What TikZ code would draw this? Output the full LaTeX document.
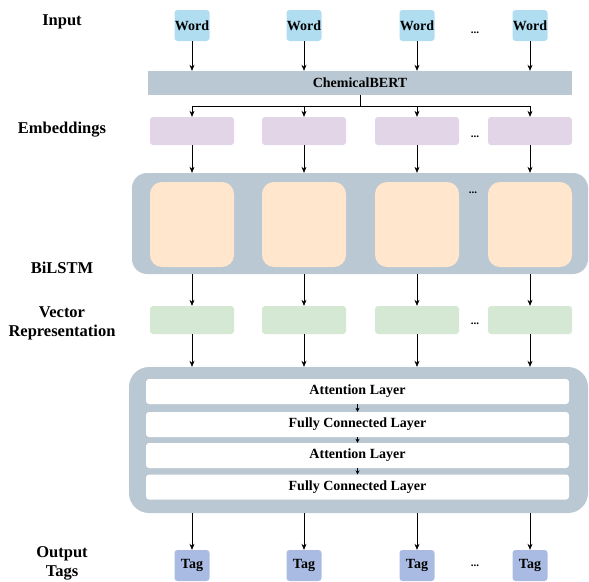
\documentclass[tikz,border=0pt]{standalone}
\usepackage{fontspec}
\setmainfont{Liberation Serif}
\usepackage{tikz}
\usetikzlibrary{positioning,arrows.meta,calc}
\definecolor{wordblue}{HTML}{B1DDF0}
\definecolor{slate}{HTML}{BAC8D3}
\definecolor{lilac}{HTML}{E1D5E7}
\definecolor{peach}{HTML}{FFE6CC}
\definecolor{mint}{HTML}{D5E8D4}
\definecolor{tagblue}{HTML}{AABBE3}

\begin{document}
\begin{tikzpicture}[x=1pt, y=-1pt,
  every node/.style={font=\bfseries\fontsize{14}{15}\selectfont, inner sep=0pt},
  token/.style={fill=#1, rounded corners=3pt, minimum width=35pt, minimum height=31pt},
  slot/.style={fill=#1, rounded corners=3pt, minimum width=84pt, minimum height=28pt},
  cell/.style={fill=peach, rounded corners=12pt, minimum width=84pt, minimum height=85pt},
  frame/.style={fill=slate, rounded corners=#1},
  layer/.style={fill=white, rounded corners=3pt, minimum width=423pt, minimum height=25pt},
  side/.style={font=\bfseries\fontsize{16.5}{19}\selectfont, align=center},
  dots/.style={font=\bfseries\fontsize{11}{12}\selectfont},
  arrow/.style={-{Stealth[length=6pt, width=5pt]}, black, line width=0.6pt},
  small arrow/.style={-{Stealth[length=4pt, width=4pt]}, black, line width=0.5pt}
]
\useasboundingbox (0,0) rectangle (589,581);

% Row labels on the left
\node[side] (lin) at (62,22) {Input};
\node[side] (lemb) at (62,130) {Embeddings};
\node[side] (llstm) at (62,268) {BiLSTM};
\node[side] (lvec) at (62,323) {Vector\\Representation};
\node[side] (lout) at (62,563) {Output\\Tags};

% Blocks spanning all columns
\node[fill=slate, minimum width=424pt, minimum height=24pt] (bert) at (360,83) {ChemicalBERT};
\node[frame=15pt, minimum width=456pt, minimum height=101pt] (lstm) at (360,223.5) {};
\node[frame=20pt, minimum width=459pt, minimum height=146pt] (head) at (358.5,440) {};
\node[layer] (att1) at (357.5,391.5) {Attention Layer};
\node[layer] (fc1) at (357.5,424.5) {Fully Connected Layer};
\node[layer] (att2) at (357.5,455.5) {Attention Layer};
\node[layer] (fc2) at (357.5,487) {Fully Connected Layer};
\coordinate (split) at (360,106);

% One column per token
\foreach \i/\x in {1/192, 2/304, 3/417, 4/530} {
  \node[token=wordblue] (w\i) at (\x,25.5) {Word};
  \node[slot=lilac] (e\i) at (\x,131) {};
  \node[cell] (h\i) at (\x,224.5) {};
  \node[slot=mint] (v\i) at (\x,320) {};
  \node[token=tagblue] (t\i) at (\x,565.5) {Tag};
  \draw[arrow] (w\i.south) -- (w\i.south |- bert.north);
  \draw[arrow] (split) -| (e\i.north);
  \draw[arrow] (e\i.south) -- (e\i.south |- lstm.north);
  \draw[arrow] (v\i.north |- lstm.south) -- (v\i.north);
  \draw[arrow] (v\i.south) -- (v\i.south |- head.north);
  \draw[arrow] (t\i.north |- head.south) -- (t\i.north);
}
\draw[line width=0.6pt] (bert.south) -- (split);

% Arrows inside the head
\draw[small arrow] (att1) -- (fc1);
\draw[small arrow] (fc1) -- (att2);
\draw[small arrow] (att2) -- (fc2);

% Ellipses between the last two columns
\node[dots] (d1) at (475,33) {...};
\node[dots] (d2) at (475,137) {...};
\node[dots] (d3) at (473,193) {...};
\node[dots] (d4) at (475,324) {...};
\node[dots] (d5) at (475,566) {...};
\end{tikzpicture}
\end{document}
